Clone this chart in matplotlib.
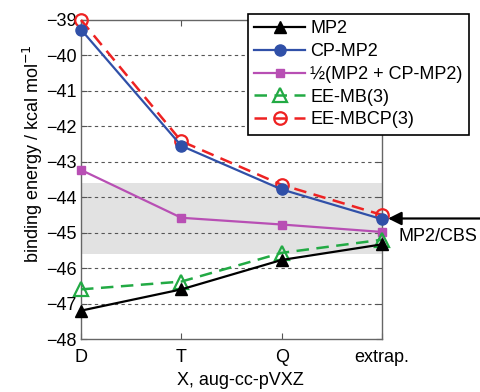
import matplotlib
matplotlib.use('Agg')
import matplotlib.pyplot as plt

plt.rcParams['font.family'] = ['Liberation Sans', 'DejaVu Sans']
plt.rcParams['font.size'] = 13

# basis sets on the x axis
basis_labels = ['D', 'T', 'Q', 'extrap.']
xpos = [1, 2, 3, 4]

# binding energies, kcal/mol
mp2 = [-47.2, -46.6, -45.77, -45.33]
cp_mp2 = [-39.27, -42.55, -43.78, -44.62]
half = [-43.23, -44.58, -44.77, -44.98]
ee_mb3 = [-46.6, -46.38, -45.57, -45.2]
ee_mbcp3 = [-39.0, -42.42, -43.65, -44.5]

cbs_value = -44.6
cbs_band = 1.0

fig = plt.figure(figsize=(4.81, 3.92), dpi=100)
ax = fig.add_axes([81/481, 53/392, 301/481, 319/392])

ax.axhspan(cbs_value - cbs_band, cbs_value + cbs_band, color='#e2e2e2', zorder=0, lw=0)
for yv in range(-47, -39):
    ax.axhline(yv, color='#555555', ls=(0, (3, 3)), lw=0.8, zorder=1)

ax.plot(xpos, mp2, '-', color='black', marker='^', ms=8, lw=1.6, label='MP2', zorder=5, clip_on=False)
ax.plot(xpos, cp_mp2, '-', color='#3050a8', marker='o', ms=8, lw=1.6, label='CP-MP2', zorder=5, clip_on=False)
ax.plot(xpos, half, '-', color='#b84fb4', marker='s', ms=6, lw=1.6, label='½(MP2 + CP-MP2)', zorder=4, clip_on=False)
ax.plot(xpos, ee_mb3, '--', color='#22aa44', marker='^', ms=10, mfc='none', mew=1.6,
        lw=1.8, dashes=(5, 3), label='EE-MB(3)', zorder=4, clip_on=False)
ax.plot(xpos, ee_mbcp3, '--', color='#ee2222', marker='o', ms=9, mfc='none', mew=1.6,
        lw=1.8, dashes=(5, 3), label='EE-MBCP(3)', zorder=4, clip_on=False)

ax.set_xlim(1, 4)
ax.set_ylim(-48, -39)
ax.set_xticks(xpos)
ax.set_xticklabels(basis_labels)
ax.set_yticks(range(-48, -38))
ax.tick_params(direction='in', top=True, right=True, length=4, color='#555555')
ax.tick_params(axis='x', pad=7)
ax.tick_params(axis='y', pad=3)
for sp in ax.spines.values():
    sp.set_color('#666666')
    sp.set_linewidth(1.0)

ax.set_xlabel('X, aug-cc-pVXZ')
ax.set_ylabel('binding energy / kcal mol$^{-1}$')
ax.xaxis.set_label_coords(0.53, -0.105)
ax.yaxis.set_label_coords(-0.12, 0.58)

# arrow marking the MP2/CBS estimate
ax.annotate('', xy=(4.06, cbs_value), xycoords='data',
            xytext=(1.0, cbs_value), textcoords=('figure fraction', 'data'),
            arrowprops=dict(arrowstyle='-|>', color='black', lw=1.6, mutation_scale=20,
                            shrinkA=0, shrinkB=0), annotation_clip=False)
ax.text(4.16, cbs_value - 0.5, 'MP2/CBS', ha='left', va='center', clip_on=False)

leg = ax.legend(loc='upper left', bbox_to_anchor=(248/481, 1 - 14/392),
                bbox_transform=fig.transFigure, frameon=True, fancybox=False,
                handlelength=2.8, borderpad=0.35, labelspacing=0.32, handletextpad=0.3,
                borderaxespad=0)
leg.get_frame().set_edgecolor('black')
leg.get_frame().set_linewidth(1.2)
leg.get_frame().set_alpha(1)

fig.savefig('out.png', dpi=100)
